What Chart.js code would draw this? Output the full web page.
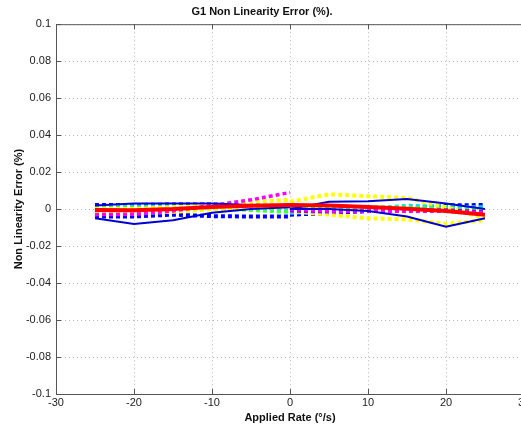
<!DOCTYPE html>
<html>
<head>
<meta charset="utf-8">
<script src="https://cdn.jsdelivr.net/npm/chart.js@4"></script>
<style>
  html, body { margin: 0; padding: 0; background: #fff; overflow: hidden; }
  #wrap { width: 540px; height: 428px; }
</style>
</head>
<body>
<div id="wrap"><canvas id="nlChart"></canvas></div>
<script>
// Applied rate points (deg/s), negative and positive sweeps
const xNeg = [-25, -20, -15, -10, -5, 0];
const xPos = [0, 5, 10, 15, 20, 25];

// Non linearity error (%) - negative sweep
const negRed     = [-0.0005, -0.0006, 0.0000, 0.0012, 0.0018, 0.0022];
const negBlueA   = [-0.0050, -0.0080, -0.0060, -0.0020, 0.0000, 0.0010];
const negBlueB   = [0.0020, 0.0030, 0.0030, 0.0030, 0.0022, 0.0012];
const negBlueD1  = [0.0022, 0.0022, 0.0025, 0.0025, 0.0020, 0.0015];
const negBlueD2  = [-0.0040, -0.0040, -0.0030, -0.0038, -0.0040, -0.0040];
const negCyan    = [0.0012, 0.0014, 0.0015, 0.0010, 0.0000, -0.0010];
const negGreen   = [0.0003, 0.0005, 0.0010, 0.0005, -0.0005, -0.0015];
const negYellow  = [-0.0020, -0.0020, -0.0015, 0.0000, 0.0010, 0.0020];
const negYellow2 = [0.0000, 0.0000, 0.0010, 0.0020, 0.0040, 0.0050];
const negMagenta = [-0.0030, -0.0028, -0.0010, 0.0020, 0.0050, 0.0090];

// positive sweep
const posRed     = [0.0022, 0.0020, 0.0012, 0.0002, -0.0010, -0.0030];
const posBlueA   = [0.0000, 0.0040, 0.0042, 0.0055, 0.0030, 0.0000];
const posBlueB   = [0.0000, 0.0000, -0.0010, -0.0040, -0.0095, -0.0050];
const posBlueD   = [-0.0030, -0.0022, -0.0010, 0.0000, 0.0020, 0.0022];
const posCyan    = [-0.0020, -0.0010, 0.0000, 0.0018, 0.0012, 0.0010];
const posGreen   = [0.0010, 0.0010, 0.0010, 0.0008, 0.0000, -0.0010];
const posYellowA = [0.0040, 0.0080, 0.0070, 0.0060, 0.0010, -0.0050];
const posYellowB = [-0.0010, -0.0030, -0.0050, -0.0055, -0.0080, -0.0060];
const posMagenta = [0.0000, -0.0010, -0.0010, -0.0012, -0.0012, -0.0020];
const posPurple  = [-0.0010, -0.0015, -0.0012, -0.0008, -0.0005, -0.0015];

const xTicks = [-30, -20, -10, 0, 10, 20, 30];
const yTicks = [-0.1, -0.08, -0.06, -0.04, -0.02, 0, 0.02, 0.04, 0.06, 0.08, 0.1];

function pts(xs, ys) {
    return xs.map((x, i) => ({ x: x, y: ys[i] }));
}

const DASH = [4, 3];
function series(xs, ys, color, dashed, width, order) {
    return {
        data: pts(xs, ys),
        borderColor: color,
        borderWidth: width,
        borderDash: dashed ? DASH : [],
        pointRadius: 0,
        tension: 0,
        fill: false,
        order: order
    };
}

const datasets = [
    series(xNeg, negRed, "#ff0000", false, 4, 0),
    series(xPos, posRed, "#ff0000", false, 4, 0),
    series(xNeg, negBlueA, "#0000d0", false, 2, 1),
    series(xNeg, negBlueB, "#0000d0", false, 2, 1),
    series(xPos, posBlueA, "#0000d0", false, 2, 1),
    series(xPos, posBlueB, "#0000d0", false, 2, 1),
    series(xNeg, negMagenta, "#ff00ff", true, 3.5, 2),
    series(xPos, posMagenta, "#ff00ff", true, 3.5, 2),
    series(xPos, posPurple, "#9000ff", true, 3.5, 3),
    series(xNeg, negYellow, "#ffff00", true, 4, 4),
    series(xNeg, negYellow2, "#ffff00", true, 4, 4),
    series(xPos, posYellowA, "#ffff00", true, 4, 4),
    series(xPos, posYellowB, "#ffff00", true, 4, 4),
    series(xNeg, negGreen, "#40ff40", true, 4, 5),
    series(xPos, posGreen, "#40ff40", true, 4, 5),
    series(xNeg, negCyan, "#00e0e0", true, 4, 6),
    series(xPos, posCyan, "#00e0e0", true, 4, 6),
    series(xNeg, negBlueD1, "#0000ff", true, 4, 7),
    series(xNeg, negBlueD2, "#0000ff", true, 4, 7),
    series(xPos, posBlueD, "#0000ff", true, 4, 7)
];

// box top line + inward ticks like the original plot
const boxTicks = {
    id: "boxTicks",
    afterDraw(chart) {
        const ctx = chart.ctx;
        const a = chart.chartArea;
        const xs = chart.scales.x, ys = chart.scales.y;
        ctx.save();
        ctx.strokeStyle = "#555";
        ctx.lineWidth = 1;
        ctx.setLineDash([]);
        ctx.beginPath();
        ctx.moveTo(a.left, a.top + 0.5);
        ctx.lineTo(a.right, a.top + 0.5);
        xTicks.forEach(v => {
            const p = Math.round(xs.getPixelForValue(v)) + 0.5;
            ctx.moveTo(p, a.bottom); ctx.lineTo(p, a.bottom - 5);
            ctx.moveTo(p, a.top); ctx.lineTo(p, a.top + 5);
        });
        yTicks.forEach(v => {
            const p = Math.round(ys.getPixelForValue(v)) + 0.5;
            ctx.moveTo(a.left, p); ctx.lineTo(a.left + 5, p);
        });
        ctx.stroke();
        ctx.restore();
    }
};

Chart.defaults.font.family = "'Liberation Sans', Arial, sans-serif";
Chart.defaults.color = "#222";

new Chart(document.getElementById("nlChart"), {
    type: "line",
    data: { datasets: datasets },
    options: {
        responsive: true,
        maintainAspectRatio: false,
        animation: false,
        layout: { padding: { left: 0, right: 16, top: 0, bottom: 0 } },
        plugins: {
            legend: { display: false },
            tooltip: { enabled: false },
            title: {
                display: true,
                text: "G1 Non Linearity Error (%).",
                font: { size: 11, weight: "bold" },
                color: "#111",
                padding: { top: 5, bottom: 6 }
            }
        },
        scales: {
            x: {
                type: "linear",
                min: -30, max: 30,
                afterBuildTicks: s => { s.ticks = xTicks.map(v => ({ value: v })); },
                afterFit: s => { s.height = 34; },
                ticks: { font: { size: 11 }, padding: 2, maxRotation: 0 },
                grid: { color: "#b8b8b8", drawTicks: false },
                border: { display: true, color: "#555", dash: [1, 3] },
                title: {
                    display: true,
                    text: "Applied Rate (\u00b0/s)",
                    font: { size: 11, weight: "bold" },
                    color: "#111",
                    padding: { top: 0, bottom: 3 }
                }
            },
            y: {
                min: -0.1, max: 0.1,
                afterBuildTicks: s => { s.ticks = yTicks.map(v => ({ value: v })); },
                afterFit: s => { s.width = 56; },
                ticks: {
                    font: { size: 11 },
                    padding: 5,
                    callback: v => String(Math.round(v * 100) / 100)
                },
                grid: { color: "#b8b8b8", drawTicks: false },
                border: { display: true, color: "#555", dash: [1, 3] },
                title: {
                    display: true,
                    text: "Non Linearity Error (%)",
                    font: { size: 11, weight: "bold" },
                    color: "#111",
                    padding: { top: 12, bottom: 0 }
                }
            }
        }
    },
    plugins: [boxTicks]
});
</script>
</body>
</html>
